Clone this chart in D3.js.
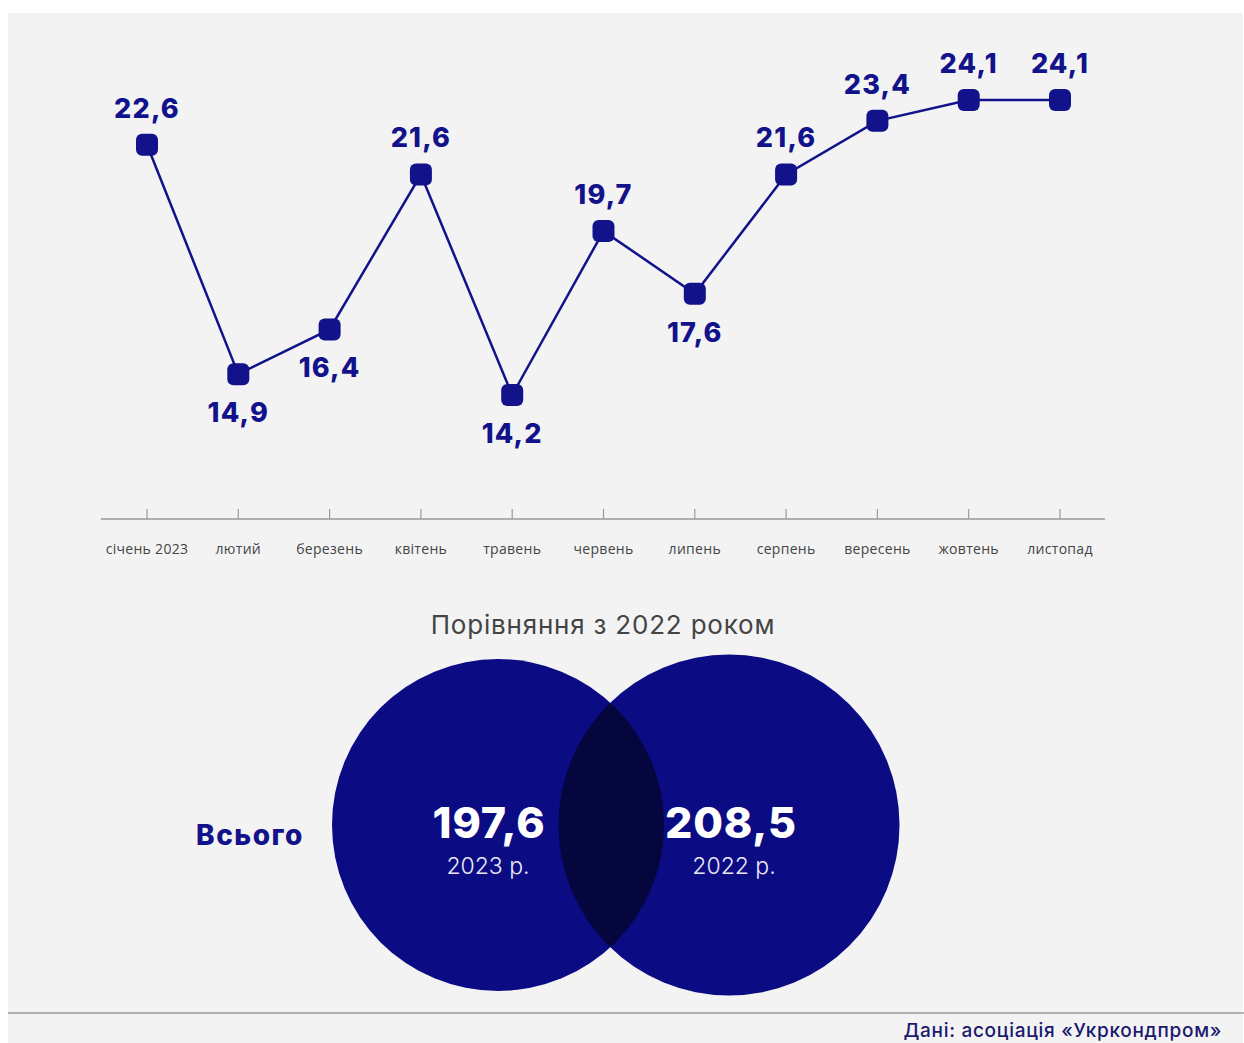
<!DOCTYPE html>
<html><head><meta charset="utf-8">
<script src="https://cdn.jsdelivr.net/npm/d3@7"></script>
<style>html,body{margin:0;padding:0;background:#fff;}svg{display:block;}</style>
</head><body>
<script>
const months = ["січень 2023","лютий","березень","квітень","травень","червень","липень","серпень","вересень","жовтень","листопад"];
const values = [22.6,14.9,16.4,21.6,14.2,19.7,17.6,21.6,23.4,24.1,24.1];
const labelPos = ["above","below","below","above","below","above","below","above","above","above","above"];
const totals = [197.6, 208.5];
const totalYears = ["2023 р.", "2022 р."];

const W = 1244, H = 1043;
const navy = "#12128a";
const fmt = v => String(v).replace(".", ",");
const svg = d3.select("body").append("svg").attr("width", W).attr("height", H);

svg.append("rect").attr("x", 8).attr("y", 13).attr("width", W - 9).attr("height", H - 13).attr("fill", "#f3f3f4");

const x = d3.scalePoint().domain(months).range([147, 1060]);
const y = d3.scaleLinear().domain([14.2, 24.1]).range([395, 100]);

// axis
const axisG = svg.append("g").attr("transform", "translate(0,519)");
axisG.append("line").attr("x1", 101).attr("x2", 1105).attr("stroke", "#9a9a9a").attr("stroke-width", 1.5);
axisG.selectAll(".tk").data(months).join("line")
  .attr("x1", d => x(d)).attr("x2", d => x(d)).attr("y1", -10).attr("y2", 0)
  .attr("stroke", "#9a9a9a").attr("stroke-width", 1.2);
axisG.selectAll(".lb").data(months).join("text")
  .attr("x", d => x(d)).attr("y", 35).attr("text-anchor", "middle")
  .attr("font-family", "Open Sans, sans-serif").attr("font-size", 14).attr("letter-spacing", 0.3).attr("fill", "#444")
  .text(d => d);

// line
const line = d3.line().x((d, i) => x(months[i])).y(d => y(d));
svg.append("path").datum(values).attr("d", line).attr("fill", "none").attr("stroke", navy).attr("stroke-width", 2.5);

svg.selectAll(".pt").data(values).join("rect")
  .attr("x", (d, i) => x(months[i]) - 11).attr("y", d => y(d) - 11)
  .attr("width", 22).attr("height", 22).attr("rx", 6).attr("fill", navy);

svg.selectAll(".vl").data(values).join("text")
  .attr("x", (d, i) => x(months[i]))
  .attr("y", (d, i) => labelPos[i] === "above" ? y(d) - 27 : y(d) + 48)
  .attr("text-anchor", "middle")
  .attr("font-family", "Inter, sans-serif").attr("font-weight", 800).attr("font-size", 27).attr("letter-spacing", 1.2)
  .attr("fill", navy).text(d => fmt(d));

// Venn
svg.append("text").attr("x", 603).attr("y", 634).attr("text-anchor", "middle")
  .attr("font-family", "Inter, sans-serif").attr("font-size", 26).attr("letter-spacing", 0.8).attr("fill", "#444")
  .text("Порівняння з 2022 роком");

const r = d3.scaleSqrt().domain([0, 197.6]).range([0, 166]);
const cx = [498, 729];
const cy = 825;
svg.selectAll(".c").data(totals).join("circle")
  .attr("cx", (d, i) => cx[i]).attr("cy", cy).attr("r", d => r(d))
  .attr("fill", "#0b0b84");
const defs = svg.append("defs");
defs.append("clipPath").attr("id", "clipL").append("circle").attr("cx", cx[0]).attr("cy", cy).attr("r", r(totals[0]));
svg.append("circle").attr("cx", cx[1]).attr("cy", cy).attr("r", r(totals[1]))
  .attr("clip-path", "url(#clipL)").attr("fill", "#06063e");

svg.selectAll(".tv").data(totals).join("text")
  .attr("x", (d, i) => [489, 731][i]).attr("y", 838).attr("text-anchor", "middle")
  .attr("font-family", "Inter, sans-serif").attr("font-weight", 800).attr("font-size", 43).attr("letter-spacing", 0.8)
  .attr("fill", "#fff").text(d => fmt(d));
svg.selectAll(".ty").data(totalYears).join("text")
  .attr("x", (d, i) => [488, 734][i]).attr("y", 874).attr("text-anchor", "middle")
  .attr("font-family", "Inter, sans-serif").attr("font-weight", 300).attr("font-size", 23)
  .attr("fill", "#e8e8f4").text(d => d);

svg.append("text").attr("x", 250).attr("y", 845).attr("text-anchor", "middle")
  .attr("font-family", "Inter, sans-serif").attr("font-weight", 800).attr("font-size", 28).attr("letter-spacing", 1.5)
  .attr("fill", navy).text("Всього");

// footer
svg.append("line").attr("x1", 8).attr("x2", W).attr("y1", 1013).attr("y2", 1013).attr("stroke", "#999").attr("stroke-width", 1.5);
svg.append("text").attr("x", 1222).attr("y", 1037).attr("text-anchor", "end")
  .attr("font-family", "Inter, sans-serif").attr("font-weight", 500).attr("font-size", 19).attr("letter-spacing", 0.7)
  .attr("fill", "#1a1a6e").text("Дані: асоціація «Укркондпром»");
</script>
</body></html>
